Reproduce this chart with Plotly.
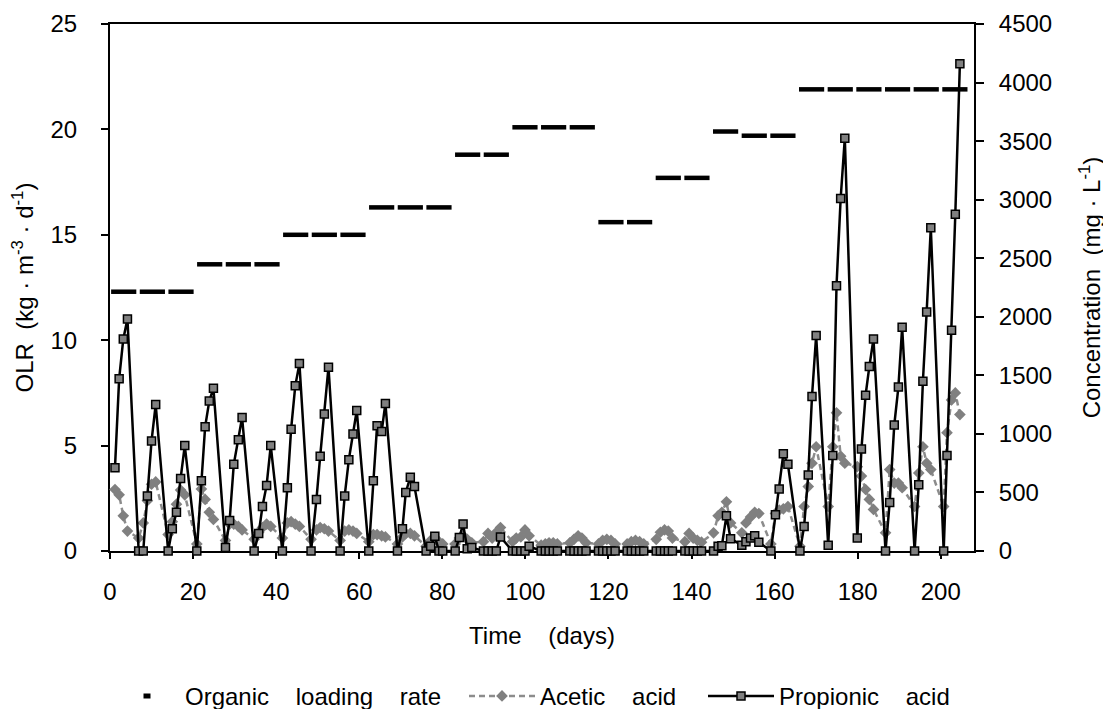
import plotly.graph_objects as go

# ---- data ----
days = [1.2, 2.2, 3.2, 4.2,
        6.9, 8.0, 9.0, 10.0, 11.0,
        14.0, 15.0, 16.0, 17.0, 18.0,
        20.9, 22.0, 22.9, 23.9, 24.9,
        27.8, 28.8, 29.8, 30.9, 31.8,
        34.7, 35.8, 36.7, 37.7, 38.7,
        41.5, 42.7, 43.6, 44.6, 45.6,
        48.4, 49.7, 50.6, 51.6, 52.6,
        55.4, 56.5, 57.5, 58.5, 59.4,
        62.3, 63.4, 64.3, 65.4, 66.3,
        69.2, 70.4, 71.2, 72.3, 73.3,
        76.1, 77.2, 78.2, 79.2, 80.1,
        83.1, 84.1, 85.0, 86.0, 87.1,
        89.9, 91.0, 92.0, 93.0, 94.0,
        96.9, 97.8, 98.9, 99.9, 100.9,
        103.8, 104.8, 105.7, 106.7, 107.7,
        110.7, 111.7, 112.7, 113.6, 114.6,
        117.6, 118.6, 119.6, 120.6, 121.6,
        124.5, 125.5, 126.5, 127.5, 128.5,
        131.5, 132.5, 133.5, 134.4, 135.4,
        138.4, 139.4, 140.4, 141.4, 142.4,
        145.3, 146.4, 147.3, 148.4, 149.4,
        152.1, 153.1, 154.2, 155.2, 156.2,
        159.1, 160.2, 161.1, 162.1, 163.2,
        166.1, 167.1, 168.1, 169.0, 170.0,
        172.9, 174.0, 174.9, 175.9, 176.9,
        179.9, 180.9, 181.9, 182.8, 183.8,
        186.7, 187.7, 188.8, 189.8, 190.7,
        193.7, 194.7, 195.7, 196.6, 197.6,
        200.7, 201.5, 202.6, 203.5, 204.6]

propionic = [710, 1470, 1810, 1980,
             0, 0, 470, 940, 1250,
             0, 190, 330, 620, 900,
             0, 600, 1060, 1280, 1390,
             30, 260, 740, 950, 1140,
             0, 150, 380, 560, 900,
             0, 540, 1040, 1410, 1600,
             0, 440, 810, 1170, 1570,
             0, 470, 780, 1000, 1200,
             0, 600, 1070, 1020, 1260,
             0, 190, 500, 630, 550,
             0, 40, 125, 0, 0,
             0, 115, 230, 20, 30,
             0, 0, 0, 0, 120,
             0, 0, 0, 0, 40,
             0, 0, 0, 0, 0,
             0, 0, 0, 0, 0,
             0, 0, 0, 0, 0,
             0, 0, 0, 0, 0,
             0, 0, 0, 0, 0,
             0, 0, 0, 0, 0,
             0, 40, 45, 300, 105,
             50, 80, 110, 130, 75,
             0, 310, 530, 830, 740,
             0, 210, 650, 1320, 1840,
             50, 815, 2265, 3010, 3525,
             110, 870, 1330, 1575, 1810,
             0, 415, 1075, 1400, 1910,
             0, 565, 1450, 2040, 2760,
             0, 815, 1885, 2875, 4160]

acetic = [525, 480, 300, 170,
          110, 240, 430, 570, 590,
          140, 250, 400, 520, 480,
          60, 530, 440, 330, 270,
          90, 230, 230, 210, 180,
          100, 160, 200, 230, 210,
          110, 240, 250, 230, 210,
          100, 180, 200, 190, 170,
          90, 170, 180, 170, 150,
          80, 140, 140, 130, 120,
          60, 120, 150, 150, 130,
          40, 90, 100, 80, 60,
          60, 110, 130, 100, 70,
          80, 150, 110, 160, 200,
          80, 110, 120, 180, 130,
          50, 60, 70, 70, 60,
          70, 100, 130, 110, 70,
          60, 90, 100, 90, 60,
          60, 80, 90, 80, 60,
          100, 160, 180, 170, 110,
          80, 150, 110, 90, 75,
          155, 300, 330, 420, 240,
          155, 240, 290, 330, 320,
          60, 320, 350, 360, 380,
          40, 380, 550, 750, 890,
          380, 890, 1180, 810, 750,
          720, 640, 525, 440, 355,
          155, 695, 580, 580, 540,
          380, 665, 890, 750, 695,
          380, 1010, 1290, 1350, 1165]

olr_days = [3.3, 10.2, 17.1, 24.0, 30.9, 37.8, 44.7, 51.6, 58.5, 65.4,
            72.3, 79.2, 86.1, 93.0, 99.9, 106.8, 113.7, 120.6, 127.5, 134.4,
            141.3, 148.2, 155.1, 162.0, 168.9, 175.8, 182.7, 189.6, 196.5, 203.4]
olr = [12.3, 12.3, 12.3, 13.6, 13.6, 13.6, 15.0, 15.0, 15.0, 16.3,
       16.3, 16.3, 18.8, 18.8, 20.1, 20.1, 20.1, 15.6, 15.6, 17.7,
       17.7, 19.9, 19.7, 19.7, 21.9, 21.9, 21.9, 21.9, 21.9, 21.9]

x_ticks = [0, 20, 40, 60, 80, 100, 120, 140, 160, 180, 200]
olr_ticks = [0, 5, 10, 15, 20, 25]
conc_ticks = [0, 500, 1000, 1500, 2000, 2500, 3000, 3500, 4000, 4500]

SP = "\u00a0\u00a0\u00a0 "
SP2 = "\u00a0 "
FONT = "Liberation Sans, Arial, sans-serif"

# The page body adds an 8px offset, so the figure is sized to fit the window.
W, H = 1103, 701
L, R, T, B = 102, 137, 16, 157.5
PW = W - L - R
PH = H - T - B


def px_x(px):
    # figure-pixel -> paper x
    return (px - L) / PW


def px_y(py):
    # figure-pixel -> paper y
    return (H - B - py) / PH


fig = go.Figure()
fig.add_trace(go.Scatter(
    x=olr_days, y=olr, mode="markers", name="Organic loading rate",
    yaxis="y", cliponaxis=False, showlegend=False,
    marker=dict(symbol="line-ew", size=18, color="black",
                line=dict(width=4.5, color="black"))))
# legend entry for the OLR series (small dash symbol, as in the reference legend)
fig.add_trace(go.Scatter(
    x=[None], y=[None], mode="markers", name="Organic" + SP + "loading" + SP + "rate",
    yaxis="y", legend="legend",
    marker=dict(symbol="line-ew", size=5, color="black",
                line=dict(width=5, color="black"))))
fig.add_trace(go.Scatter(
    x=days, y=acetic, mode="lines+markers", name="Acetic" + SP + "acid",
    yaxis="y2", cliponaxis=False, legend="legend2",
    line=dict(color="#8c8c8c", width=2.5, dash="6px,4px"),
    marker=dict(symbol="diamond", size=9, color="#808080")))
fig.add_trace(go.Scatter(
    x=days, y=propionic, mode="lines+markers", name="Propionic" + SP + "acid",
    yaxis="y2", cliponaxis=False, legend="legend3",
    line=dict(color="black", width=2.5),
    marker=dict(symbol="square", size=8, color="#808080",
                line=dict(color="black", width=1.5))))

axis_common = dict(showgrid=False, zeroline=False, showline=True, linecolor="black",
                   linewidth=2, ticks="outside", tickcolor="black", tickwidth=1.5,
                   layer="below traces", automargin=False,
                   tickfont=dict(size=24, color="black"))

leg_common = dict(orientation="h", xanchor="left", yanchor="middle",
                  y=px_y(689), font=dict(size=24), bgcolor="rgba(0,0,0,0)",
                  borderwidth=0)

fig.update_layout(
    width=W, height=H,
    margin=dict(l=L, r=R, t=T, b=B, autoexpand=False),
    paper_bgcolor="white", plot_bgcolor="white",
    font=dict(family=FONT, size=24, color="black"),
    xaxis=dict(range=[0, 208], tickvals=x_ticks, ticklen=6, mirror=True,
               ticklabelstandoff=12,
               title=dict(text="Time" + SP + "(days)", standoff=23, font=dict(size=24)),
               **axis_common),
    yaxis=dict(range=[0, 25], tickvals=olr_ticks, ticklen=7, ticklabelstandoff=19,
               title=dict(text="OLR" + SP2 + "(kg · m<sup>-3</sup> · d<sup>-1</sup>)",
                          standoff=12, font=dict(size=24)),
               **axis_common),
    yaxis2=dict(range=[0, 4500], tickvals=conc_ticks, ticklen=8, overlaying="y",
                side="right", ticklabelstandoff=10,
                title=dict(text="Concentration" + SP2 + "(mg · L<sup>-1</sup>)",
                           standoff=32, font=dict(size=24)),
                **axis_common),
    legend=dict(x=px_x(101), itemwidth=66, **leg_common),
    legend2=dict(x=px_x(456), itemwidth=66, **leg_common),
    legend3=dict(x=px_x(695), itemwidth=66, **leg_common),
    showlegend=True,
)

fig.write_html("out.html")
